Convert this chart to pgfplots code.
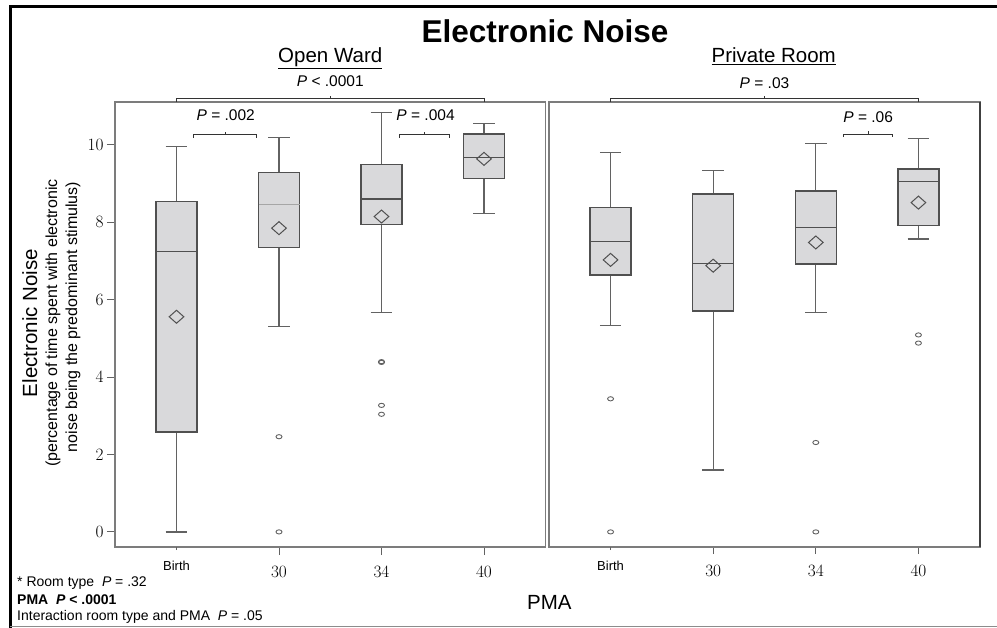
\documentclass[border=0pt]{standalone}
\usepackage{pgfplots}
\pgfplotsset{compat=1.18}
\usepgfplotslibrary{statistics}
\usepackage{fontspec}
\setmainfont{Liberation Sans}

\definecolor{boxfill}{HTML}{D9D9DB}
\definecolor{boxedge}{HTML}{505050}
\definecolor{whisk}{HTML}{626262}
\definecolor{frame}{HTML}{7C7C7C}

\pgfplotsset{
  panel/.style={
    scale only axis, height=445pt,
    xmin=0.4, xmax=4.6, ymin=-0.39, ymax=11.11,
    axis line style={frame, line width=1.2pt},
    tick align=outside, xtick pos=bottom, ytick pos=left,
    tick style={whisk, line width=1pt},
    major tick length=7pt,
    xtick={2,3,4}, xticklabels={$30$,$34$,$40$},
    xticklabel style={font=\fontsize{16.5}{16.5}\selectfont, yshift=-8pt},
    extra x ticks={1}, extra x tick labels={Birth},
    extra x tick style={major tick length=3pt,
      xticklabel style={font=\fontsize{13}{13}\selectfont}},
    clip=false,
    boxplot/draw direction=y,
    boxplot/every box/.style={draw=boxedge, fill=boxfill, line width=1.3pt},
    boxplot/every whisker/.style={draw=whisk, line width=1.2pt},
    boxplot/every median/.style={draw=boxedge, line width=1.3pt},
  },
  bx/.style={boxplot prepared={#1, box extend=0.4, whisker extend=0.21},
    draw=whisk, mark=o, mark size=3pt, mark options={yscale=0.7, line width=0.9pt}},
  mn/.style={only marks, mark=diamond, mark size=6.5pt,
    mark options={xscale=1.5, draw=boxedge, line width=1pt}},
}
\tikzset{
  brk/.style={draw=black!80, line width=1pt},
  ptxt/.style={font=\fontsize{15.5}{15.5}\selectfont, anchor=base},
  head/.style={font=\fontsize{20.5}{20.5}\selectfont, anchor=base},
}

\begin{document}
\begin{tikzpicture}
\path[use as bounding box] (0pt,0pt) rectangle (997pt,-628pt);
\draw[line width=3pt] (10pt,-628pt) -- (10pt,-7pt) -- (997pt,-7pt);
\draw[black!45, line width=1pt] (10pt,-626.5pt) -- (997pt,-626.5pt);

% Open Ward
\begin{axis}[panel, at={(115pt,-547pt)}, anchor=south west, width=430.5pt,
  ytick={0,2,...,10}, major tick length=8pt,
  yticklabel style={font=\fontsize{16.5}{16.5}\selectfont}]
\addplot[bx={lower whisker=0, lower quartile=2.58, median=7.24,
  upper quartile=8.54, upper whisker=9.96, draw position=1}] coordinates {};
\addplot[bx={lower whisker=5.31, lower quartile=7.35, median=8.47,
  upper quartile=9.28, upper whisker=10.2, draw position=2},
  boxplot/every median/.style={draw=black!35, line width=1pt}]
  table[row sep=\\, y index=0] {data\\ 2.46\\ 0\\};
\addplot[bx={lower whisker=5.68, lower quartile=7.95, median=8.60,
  upper quartile=9.50, upper whisker=10.84, draw position=3}]
  table[row sep=\\, y index=0] {data\\ 4.38\\ 4.40\\ 3.27\\ 3.04\\};
\addplot[bx={lower whisker=8.23, lower quartile=9.14, median=9.68,
  upper quartile=10.28, upper whisker=10.56, draw position=4}] coordinates {};
\addplot[mn] coordinates {(1,5.56) (2,7.85) (3,8.15) (4,9.64)};

\draw[brk] (axis cs:1,11.11) -- (axis cs:1,11.19) -- (axis cs:4,11.19) -- (axis cs:4,11.11);
\draw[brk] (axis cs:2.5,11.19) -- (axis cs:2.5,11.27);
\draw[brk] (axis cs:1.17,10.18) -- (axis cs:1.17,10.26) -- (axis cs:1.78,10.26) -- (axis cs:1.78,10.18);
\draw[brk] (axis cs:1.475,10.26) -- (axis cs:1.475,10.34);
\draw[brk] (axis cs:3.18,10.18) -- (axis cs:3.18,10.26) -- (axis cs:3.66,10.26) -- (axis cs:3.66,10.18);
\draw[brk] (axis cs:3.42,10.26) -- (axis cs:3.42,10.34);
\node[head] at (axis cs:2.5,12.12) {\underline{Open Ward}};
\node[ptxt] at (axis cs:2.5,11.52) {\textit{P} < .0001};
\node[ptxt] at (axis cs:1.48,10.62) {\textit{P} = .002};
\node[ptxt] at (axis cs:3.43,10.62) {\textit{P} = .004};
\end{axis}

% Private Room
\begin{axis}[panel, at={(549pt,-547pt)}, anchor=south west, width=431pt,
  ytick=\empty]
\addplot[bx={lower whisker=5.33, lower quartile=6.64, median=7.50,
  upper quartile=8.38, upper whisker=9.81, draw position=1}]
  table[row sep=\\, y index=0] {data\\ 3.44\\ 0\\};
\addplot[bx={lower whisker=1.60, lower quartile=5.71, median=6.94,
  upper quartile=8.73, upper whisker=9.34, draw position=2}] coordinates {};
\addplot[bx={lower whisker=5.68, lower quartile=6.92, median=7.87,
  upper quartile=8.81, upper whisker=10.04, draw position=3}]
  table[row sep=\\, y index=0] {data\\ 2.31\\ 0\\};
\addplot[bx={lower whisker=7.57, lower quartile=7.91, median=9.05,
  upper quartile=9.38, upper whisker=10.17, draw position=4}]
  table[row sep=\\, y index=0] {data\\ 5.09\\ 4.88\\};
\addplot[mn] coordinates {(1,7.03) (2,6.88) (3,7.48) (4,8.51)};

\draw[black!75, line width=1.6pt] (rel axis cs:1,0) -- (rel axis cs:1,1);
\draw[brk] (axis cs:1,11.11) -- (axis cs:1,11.19) -- (axis cs:4,11.19) -- (axis cs:4,11.11);
\draw[brk] (axis cs:2.5,11.19) -- (axis cs:2.5,11.27);
\draw[brk] (axis cs:3.27,10.20) -- (axis cs:3.27,10.28) -- (axis cs:3.75,10.28) -- (axis cs:3.75,10.20);
\draw[brk] (axis cs:3.51,10.28) -- (axis cs:3.51,10.36);
\node[head] at (axis cs:2.59,12.12) {\underline{Private Room}};
\node[ptxt] at (axis cs:2.5,11.45) {\textit{P} = .03};
\node[ptxt] at (axis cs:3.51,10.59) {\textit{P} = .06};
\end{axis}

\node[font=\fontsize{31.5}{31.5}\selectfont\bfseries, anchor=base] at (545pt,-43pt) {Electronic Noise};
\node[font=\fontsize{20.5}{20.5}\selectfont, anchor=base, rotate=90] at (37pt,-323pt) {Electronic Noise};
\node[font=\fontsize{16}{16}\selectfont, anchor=base, rotate=90] at (57pt,-323pt) {(percentage of time spent with electronic};
\node[font=\fontsize{16}{16}\selectfont, anchor=base, rotate=90] at (77pt,-317pt) {noise being the predominant stimulus)};
\node[font=\fontsize{20.5}{20.5}\selectfont, anchor=base west, inner sep=0pt] at (527pt,-609pt) {PMA};
\node[font=\fontsize{14}{14}\selectfont, anchor=base west, inner sep=0pt] at (17pt,-586pt) {* Room type\ \ \textit{P} = .32};
\node[font=\fontsize{14}{14}\selectfont\bfseries, anchor=base west, inner sep=0pt] at (17pt,-604pt) {PMA\ \ \textit{P} < .0001};
\node[font=\fontsize{14}{14}\selectfont, anchor=base west, inner sep=0pt] at (17pt,-620pt) {Interaction room type and PMA\ \ \textit{P} = .05};
\end{tikzpicture}
\end{document}
